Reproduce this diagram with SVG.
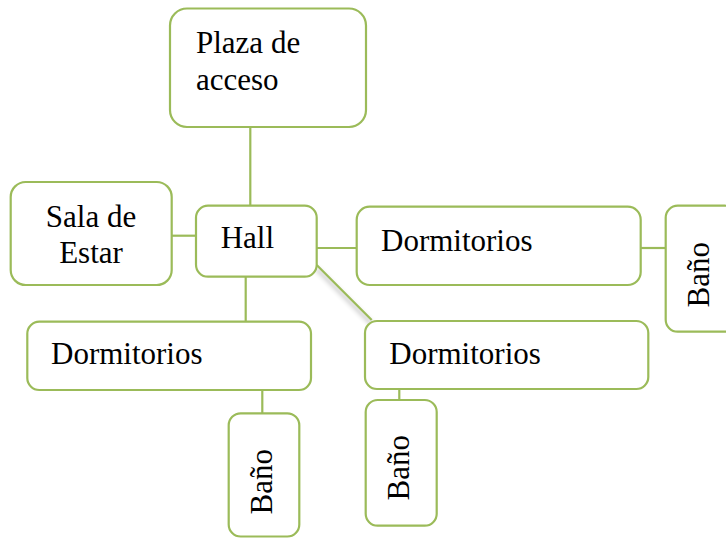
<svg xmlns="http://www.w3.org/2000/svg" width="726" height="538" viewBox="0 0 726 538">
<defs>
<filter id="sh" x="-20%" y="-20%" width="140%" height="140%">
<feGaussianBlur stdDeviation="2"/>
</filter>
<style>
.box{fill:#ffffff;stroke:#9bbb59;stroke-width:2.2}
.ln{stroke:#9bbb59;stroke-width:2.2;fill:none}
.shd{stroke:#000;stroke-opacity:0.18;stroke-width:4;fill:none;filter:url(#sh)}
</style>
</defs>
<rect width="726" height="538" fill="#ffffff"/>
<g id="connectors">
<g transform="translate(0,4)">
<line class="shd" x1="250.3" y1="127" x2="250.3" y2="205"/>
<line class="shd" x1="172" y1="235.7" x2="196" y2="235.7"/>
<line class="shd" x1="317" y1="248" x2="357" y2="248"/>
<line class="shd" x1="641" y1="248" x2="666" y2="248"/>
<line class="shd" x1="316.7" y1="265" x2="371.7" y2="320"/>
<line class="shd" x1="245.7" y1="277" x2="245.7" y2="321"/>
<line class="shd" x1="262.3" y1="390" x2="262.3" y2="413"/>
<line class="shd" x1="399.3" y1="389" x2="399.3" y2="400"/>
</g>
<line class="ln" x1="250.3" y1="127" x2="250.3" y2="205"/>
<line class="ln" x1="172" y1="235.7" x2="196" y2="235.7"/>
<line class="ln" x1="317" y1="248" x2="357" y2="248"/>
<line class="ln" x1="641" y1="248" x2="666" y2="248"/>
<line class="ln" x1="316.7" y1="265" x2="371.7" y2="320"/>
<line class="ln" x1="245.7" y1="277" x2="245.7" y2="321"/>
<line class="ln" x1="262.3" y1="390" x2="262.3" y2="413"/>
<line class="ln" x1="399.3" y1="389" x2="399.3" y2="400"/>
</g>
<g font-family="Liberation Serif" font-size="31" fill="#000000">
<g id="plaza">
<rect class="box" x="170" y="8.5" width="196" height="118.5" rx="17"/>
<text x="196" y="53">Plaza de</text>
<text x="196" y="90">acceso</text>
</g>
<g id="sala">
<rect class="box" x="10.7" y="182" width="161" height="103" rx="15"/>
<text x="91" y="226.7" text-anchor="middle">Sala de</text>
<text x="91" y="263" text-anchor="middle">Estar</text>
</g>
<g id="hall">
<rect class="box" x="196" y="205.7" width="120.7" height="71" rx="12"/>
<text x="220.7" y="248">Hall</text>
</g>
<g id="dorm-right">
<rect class="box" x="356.7" y="206.7" width="284" height="78.3" rx="13"/>
<text x="381" y="250.7">Dormitorios</text>
</g>
<g id="bano-right">
<rect class="box" x="665.7" y="205.7" width="71" height="126" rx="12"/>
<text transform="translate(708.5,307.5) rotate(-90)">Baño</text>
</g>
<g id="dorm-middle">
<rect class="box" x="365" y="321" width="283.3" height="68" rx="12"/>
<text x="389.3" y="364">Dormitorios</text>
</g>
<g id="dorm-left">
<rect class="box" x="27.3" y="321.7" width="283.7" height="68.3" rx="12"/>
<text x="51" y="364">Dormitorios</text>
</g>
<g id="bano-left">
<rect class="box" x="228.7" y="413.3" width="70.6" height="123.2" rx="12"/>
<text transform="translate(271.7,514.5) rotate(-90)">Baño</text>
</g>
<g id="bano-middle">
<rect class="box" x="365.7" y="400" width="71" height="125.7" rx="12"/>
<text transform="translate(409.3,500.5) rotate(-90)">Baño</text>
</g>
</g>
</svg>
